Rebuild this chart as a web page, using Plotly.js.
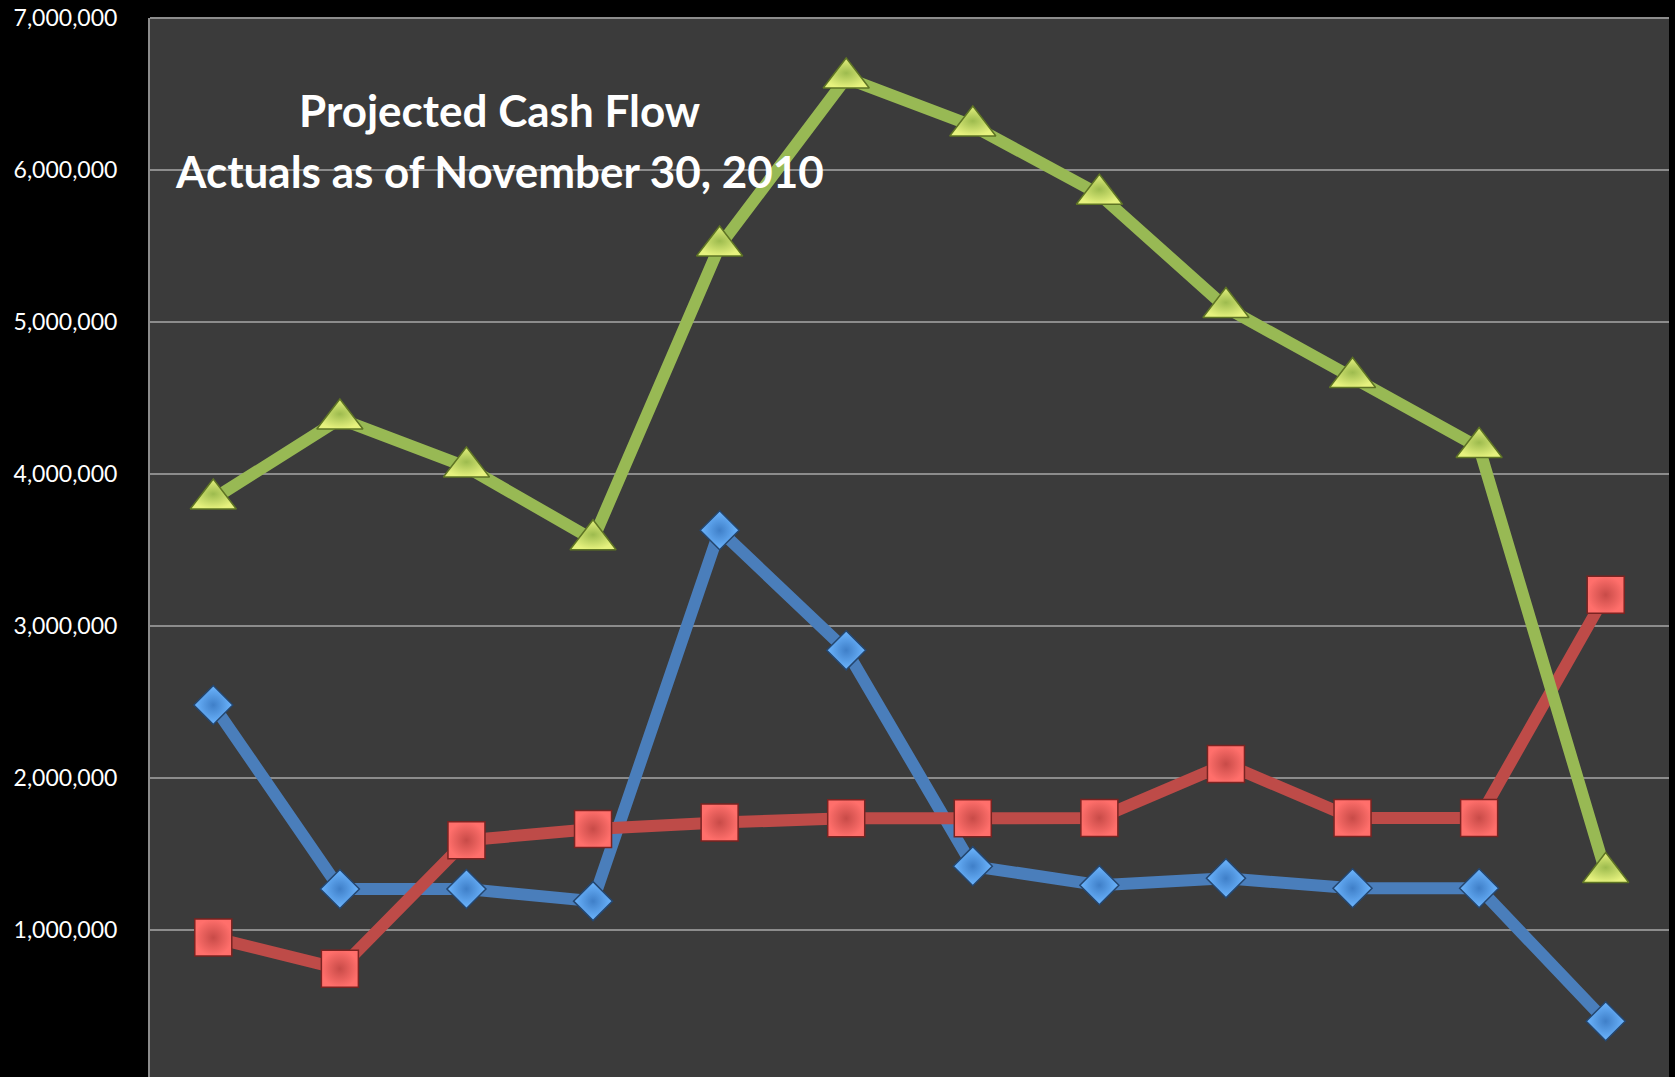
<!DOCTYPE html>
<html>
<head>
<meta charset="utf-8">
<script src="https://cdn.plot.ly/plotly-3.0.1.min.js"></script>
<style>
  html, body { margin: 0; padding: 0; background: #000000; }
  #chart { width: 1675px; height: 1077px; }
</style>
</head>
<body>
<div id="chart"></div>
<script>
// Periods (category positions; the axis labels are cropped out in the reference)
const periods = [1, 2, 3, 4, 5, 6, 7, 8, 9, 10, 11, 12];

// Series values
const blueSeries  = [2480000, 1270000, 1270000, 1190000, 3630000, 2840000, 1420000, 1295000, 1340000, 1275000, 1275000, 400000];
const redSeries   = [950000, 745000, 1590000, 1665000, 1707000, 1735000, 1735000, 1737000, 2092000, 1737000, 1737000, 3205000];
const greenSeries = [3836000, 4362000, 4046000, 3568000, 5500000, 6605000, 6290000, 5840000, 5095000, 4635000, 4174000, 1378000];

// Y-axis ticks
const yTickValues = [1000000, 2000000, 3000000, 4000000, 5000000, 6000000, 7000000];
const yTickLabels = ['1,000,000', '2,000,000', '3,000,000', '4,000,000', '5,000,000', '6,000,000', '7,000,000'];

// Title lines
const titleLine1 = 'Projected Cash Flow';
const titleLine2 = 'Actuals as of November 30, 2010';

function series(y, lineColor, symbol, size, fill, inner, border) {
  return {
    x: periods,
    y: y,
    type: 'scatter',
    mode: 'lines+markers',
    line: { color: lineColor, width: 12 },
    marker: {
      symbol: symbol,
      size: size,
      color: fill,
      gradient: { type: 'radial', color: inner },
      line: { color: border, width: 1.5 }
    },
    hoverinfo: 'y'
  };
}

const traces = [
  series(blueSeries,  '#4A7EBB', 'diamond',     30, '#6DB6FF', '#3F7FC8', '#24466F'),
  series(redSeries,   '#BE4B48', 'square',      37, '#FF6F6B', '#C84B48', '#7A2321'),
  series(greenSeries, '#98B954', 'triangle-up', 40, '#E6F27E', '#9DBB4E', '#5E7424')
];

const layout = {
  width: 1675,
  height: 1077,
  paper_bgcolor: '#000000',
  plot_bgcolor: '#3B3B3B',
  margin: { l: 150, r: 6, t: 18, b: 0, pad: 0 },
  showlegend: false,
  font: { family: 'Lato, "Open Sans", sans-serif', color: '#FFFFFF' },
  xaxis: {
    type: 'linear',
    range: [0.5, 12.5],
    showgrid: false,
    zeroline: false,
    showticklabels: false,
    ticks: '',
    showline: false
  },
  yaxis: {
    range: [33000, 7000000],
    tickvals: yTickValues,
    ticktext: yTickLabels,
    showgrid: true,
    gridcolor: '#8C8C8C',
    gridwidth: 2,
    zeroline: false,
    showline: true,
    linecolor: '#8C8C8C',
    linewidth: 2,
    ticks: '',
    ticklabelstandoff: 26,
    tickfont: { family: 'Lato, sans-serif', size: 23, color: '#FFFFFF' }
  },
  shapes: [
    { type: 'line', xref: 'paper', yref: 'paper', x0: 0, x1: 1, y0: 1, y1: 1,
      line: { color: '#8C8C8C', width: 2 }, layer: 'below' }
  ],
  annotations: [
    { text: '<b>' + titleLine1 + '</b>', xref: 'paper', yref: 'paper', x: 0.2304, y: 0.9127,
      xanchor: 'center', yanchor: 'middle', showarrow: false,
      font: { family: 'Lato, sans-serif', size: 44, color: '#FFFFFF' } },
    { text: '<b>' + titleLine2 + '</b>', xref: 'paper', yref: 'paper', x: 0.2304, y: 0.8555,
      xanchor: 'center', yanchor: 'middle', showarrow: false,
      font: { family: 'Lato, sans-serif', size: 44, color: '#FFFFFF' } }
  ]
};

Plotly.newPlot('chart', traces, layout, { displayModeBar: false, staticPlot: true });
</script>
</body>
</html>
